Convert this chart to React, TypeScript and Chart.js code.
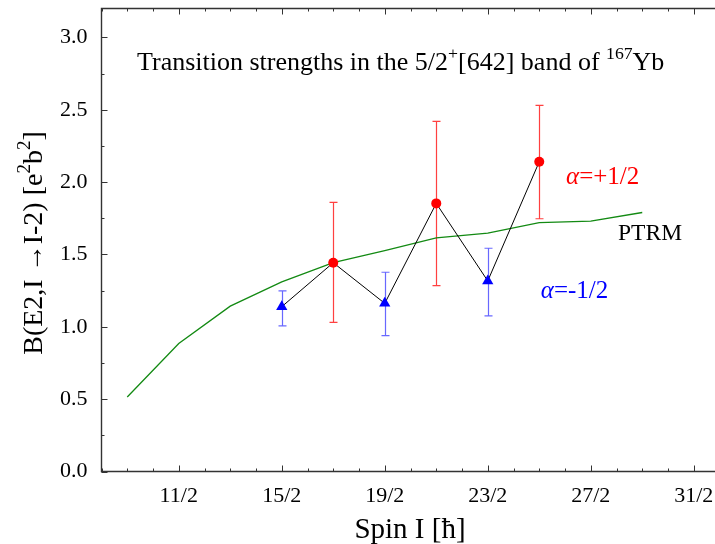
import React, { useEffect, useRef } from "react";
import { Chart, registerables } from "chart.js";

Chart.register(...registerables);

const FONT = '"Liberation Serif", "Times New Roman", "DejaVu Serif", serif';

// PTRM calculation
const ptrmSpins = [4.5, 5.5, 6.5, 7.5, 8.5, 9.5, 10.5, 11.5, 12.5, 13.5, 14.5];
const ptrmValues = [0.515, 0.885, 1.143, 1.31, 1.443, 1.527, 1.615, 1.647, 1.72, 1.73, 1.79];

// alpha = +1/2 (red circles)
const plusSpins = [8.5, 10.5, 12.5];
const plusValues = [1.443, 1.853, 2.141];
const plusLow = [1.031, 1.284, 1.747];
const plusHigh = [1.86, 2.42, 2.531];

// alpha = -1/2 (blue triangles)
const minusSpins = [7.5, 9.5, 11.5];
const minusValues = [1.139, 1.162, 1.317];
const minusLow = [1.006, 0.939, 1.075];
const minusHigh = [1.249, 1.377, 1.543];

const xTickValues = [5.5, 7.5, 9.5, 11.5, 13.5, 15.5];
const xTickLabels = ["11/2", "15/2", "19/2", "23/2", "27/2", "31/2"];
const yTickValues = [0, 0.5, 1.0, 1.5, 2.0, 2.5, 3.0];
const yTickLabels = ["0.0", "0.5", "1.0", "1.5", "2.0", "2.5", "3.0"];

type Part = { t: string; sup?: boolean; italic?: boolean };

function richWidth(ctx: CanvasRenderingContext2D, parts: Part[], size: number) {
  let w = 0;
  for (const p of parts) {
    const s = p.sup ? size * 0.68 : size;
    ctx.font = `${p.italic ? "italic " : ""}${s}px ${FONT}`;
    w += ctx.measureText(p.t).width;
  }
  return w;
}

function drawRich(
  ctx: CanvasRenderingContext2D,
  parts: Part[],
  x: number,
  y: number,
  size: number,
  color: string
) {
  ctx.save();
  ctx.fillStyle = color;
  ctx.textBaseline = "alphabetic";
  ctx.textAlign = "left";
  let cx = x;
  for (const p of parts) {
    const s = p.sup ? size * 0.68 : size;
    ctx.font = `${p.italic ? "italic " : ""}${s}px ${FONT}`;
    const dy = p.sup ? -size * 0.42 : 0;
    ctx.fillText(p.t, cx, y + dy);
    cx += ctx.measureText(p.t).width;
  }
  ctx.restore();
}

const titleParts: Part[] = [
  { t: "Transition strengths in the 5/2" },
  { t: "+", sup: true },
  { t: "[642] band of " },
  { t: "167", sup: true },
  { t: "Yb" },
];
const yTitleParts: Part[] = [
  { t: "B(E2,I \u2192I-2) [e" },
  { t: "2", sup: true },
  { t: "b" },
  { t: "2", sup: true },
  { t: "]" },
];
const xTitle = "Spin I [\u0127]";

const errorBarPlugin = {
  id: "errorBars",
  beforeDatasetsDraw(chart: any) {
    const ctx = chart.ctx as CanvasRenderingContext2D;
    const xs = chart.scales.x;
    const ys = chart.scales.y;
    const draw = (spins: number[], lo: number[], hi: number[], color: string) => {
      ctx.save();
      ctx.strokeStyle = color;
      ctx.lineWidth = 1.2;
      spins.forEach((s, i) => {
        const px = Math.round(xs.getPixelForValue(s)) + 0.5;
        const y1 = ys.getPixelForValue(lo[i]);
        const y2 = ys.getPixelForValue(hi[i]);
        ctx.beginPath();
        ctx.moveTo(px, y1);
        ctx.lineTo(px, y2);
        ctx.moveTo(px - 4, y1);
        ctx.lineTo(px + 4, y1);
        ctx.moveTo(px - 4, y2);
        ctx.lineTo(px + 4, y2);
        ctx.stroke();
      });
      ctx.restore();
    };
    draw(plusSpins, plusLow, plusHigh, "rgba(255,30,30,0.85)");
    draw(minusSpins, minusLow, minusHigh, "rgba(40,40,255,0.7)");
  },
};

const framePlugin = {
  id: "frame",
  afterDraw(chart: any) {
    const ctx = chart.ctx as CanvasRenderingContext2D;
    const { left, right, top, bottom } = chart.chartArea;
    const xs = chart.scales.x;
    const ys = chart.scales.y;
    ctx.save();
    ctx.strokeStyle = "#333";
    ctx.lineWidth = 1.4;
    ctx.beginPath();
    ctx.moveTo(right, top);
    ctx.lineTo(left, top);
    ctx.lineTo(left, bottom);
    ctx.lineTo(right, bottom);
    ctx.stroke();
    ctx.lineWidth = 1;
    ctx.beginPath();
    for (let v = 4; v <= 16.001; v += 0.5) {
      const px = Math.round(xs.getPixelForValue(v)) + 0.5;
      const major = xTickValues.some((t) => Math.abs(t - v) < 1e-6);
      const len = major ? 6 : 3;
      ctx.moveTo(px, bottom);
      ctx.lineTo(px, bottom - len);
      ctx.moveTo(px, top);
      ctx.lineTo(px, top + len);
    }
    for (let v = 0; v <= 3.2001; v += 0.25) {
      const py = Math.round(ys.getPixelForValue(v)) + 0.5;
      const major = yTickValues.some((t) => Math.abs(t - v) < 1e-6);
      const len = major ? 6 : 3;
      ctx.moveTo(left, py);
      ctx.lineTo(left + len, py);
    }
    ctx.stroke();
    ctx.restore();

    // title inside plot
    drawRich(ctx, titleParts, xs.getPixelForValue(4.69), ys.getPixelForValue(2.775), 26, "#000");
    // series labels
    drawRich(ctx, [{ t: "\u03b1", italic: true }, { t: "=+1/2" }], xs.getPixelForValue(13.02), ys.getPixelForValue(1.99), 25, "#ff0000");
    drawRich(ctx, [{ t: "\u03b1", italic: true }, { t: "=-1/2" }], xs.getPixelForValue(12.53), ys.getPixelForValue(1.2), 25, "#0000ff");
    drawRich(ctx, [{ t: "PTRM" }], xs.getPixelForValue(14.03), ys.getPixelForValue(1.6), 23.5, "#000");

    // axis titles
    ctx.save();
    ctx.fillStyle = "#000";
    ctx.font = `29px ${FONT}`;
    ctx.textAlign = "center";
    ctx.textBaseline = "alphabetic";
    ctx.fillText(xTitle, 410, 538);
    ctx.restore();

    ctx.save();
    ctx.translate(41.7, 243);
    ctx.rotate(-Math.PI / 2);
    const w = richWidth(ctx, yTitleParts, 28);
    drawRich(ctx, yTitleParts, -w / 2, 0, 28, "#000");
    ctx.restore();
  },
};

export default function App() {
  const ref = useRef<HTMLCanvasElement | null>(null);
  useEffect(() => {
    if (!ref.current) return;
    const expPoints = [
      ...plusSpins.map((s, i) => ({ x: s, y: plusValues[i] })),
      ...minusSpins.map((s, i) => ({ x: s, y: minusValues[i] })),
    ].sort((a, b) => a.x - b.x);
    const chart = new Chart(ref.current, {
      type: "scatter",
      data: {
        datasets: [
          {
            label: "PTRM",
            data: ptrmSpins.map((s, i) => ({ x: s, y: ptrmValues[i] })),
            showLine: true,
            borderColor: "#138a13",
            borderWidth: 1.3,
            pointRadius: 0,
            order: 4,
          },
          {
            label: "exp",
            data: expPoints,
            showLine: true,
            borderColor: "#000",
            borderWidth: 1,
            pointRadius: 0,
            order: 3,
          },
          {
            label: "alpha=+1/2",
            data: plusSpins.map((s, i) => ({ x: s, y: plusValues[i] })),
            pointStyle: "circle",
            pointRadius: 5,
            backgroundColor: "#ff0000",
            borderColor: "#ff0000",
            borderWidth: 0,
            order: 1,
          },
          {
            label: "alpha=-1/2",
            data: minusSpins.map((s, i) => ({ x: s, y: minusValues[i] })),
            pointStyle: "triangle",
            pointRadius: 6.5,
            backgroundColor: "#0000ff",
            borderColor: "#0000ff",
            borderWidth: 0,
            order: 2,
          },
        ],
      },
      options: {
        animation: false,
        responsive: false,
        devicePixelRatio: 1,
        layout: { padding: { left: 0, top: 8.5, right: 1.5, bottom: 0 } },
        plugins: { legend: { display: false }, tooltip: { enabled: false } },
        scales: {
          x: {
            type: "linear",
            min: 4,
            max: 16,
            grid: { display: false, drawTicks: false },
            border: { display: false },
            ticks: {
              font: { family: FONT, size: 22 },
              color: "#000",
              padding: 12,
              maxRotation: 0,
              autoSkip: false,
              callback: (_v: any, i: number) => xTickLabels[i],
            },
            afterBuildTicks: (scale: any) => {
              scale.ticks = xTickValues.map((v) => ({ value: v }));
            },
            afterFit: (scale: any) => {
              scale.height = 72.5;
              scale.paddingLeft = 0;
              scale.paddingRight = 0;
              scale.paddingTop = 0;
              scale.paddingBottom = 0;
            },
          },
          y: {
            type: "linear",
            min: 0,
            max: 3.2,
            grid: { display: false, drawTicks: false },
            border: { display: false },
            ticks: {
              font: { family: FONT, size: 22 },
              color: "#000",
              padding: 14,
              autoSkip: false,
              callback: (_v: any, i: number) => yTickLabels[i],
            },
            afterBuildTicks: (scale: any) => {
              scale.ticks = yTickValues.map((v) => ({ value: v }));
            },
            afterFit: (scale: any) => {
              scale.width = 101.5;
              scale.paddingLeft = 0;
              scale.paddingRight = 0;
              scale.paddingTop = 0;
              scale.paddingBottom = 0;
            },
          },
        },
      },
      plugins: [errorBarPlugin, framePlugin],
    });
    return () => chart.destroy();
  }, []);
  return (
    <div
      style={{
        position: "absolute",
        left: 0,
        top: 0,
        width: 715,
        height: 544,
        overflow: "hidden",
        background: "#fff",
      }}
    >
      <canvas ref={ref} width={726} height={544} style={{ display: "block" }} />
    </div>
  );
}
